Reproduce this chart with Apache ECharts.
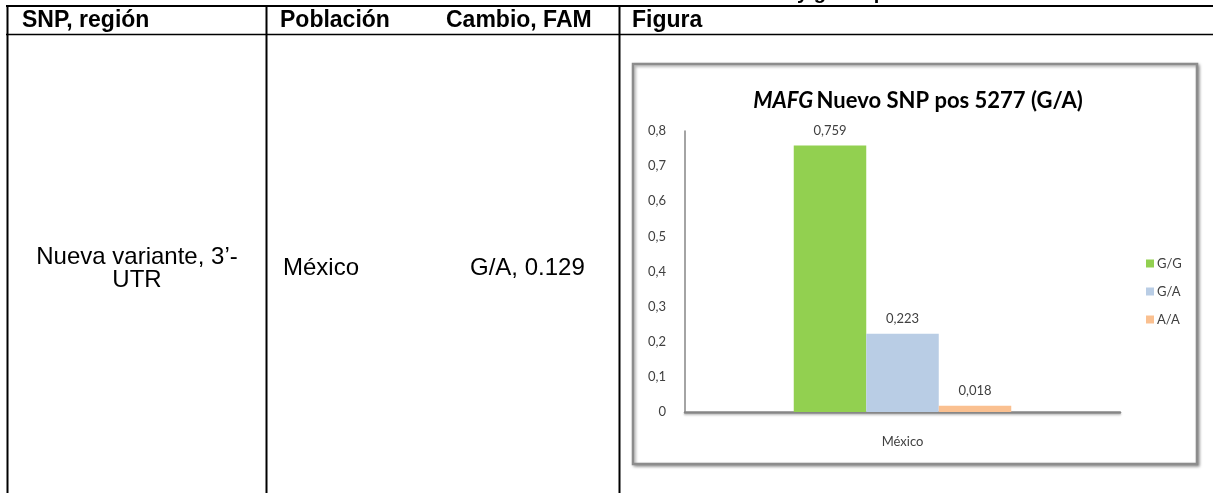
<!DOCTYPE html>
<html>
<head>
<meta charset="utf-8">
<title>MAFG Nuevo SNP pos 5277 (G/A)</title>
<script src="https://cdn.jsdelivr.net/npm/echarts@6/dist/echarts.min.js"></script>
<style>
  html, body { margin: 0; padding: 0; background: #ffffff; }
  #chart { width: 1213px; height: 493px; }
</style>
</head>
<body>
<div id="chart"></div>
<script>
// Genotype frequencies per population
const categories = ['México'];
const genotypes = ['G/G', 'G/A', 'A/A'];
const valuesGG = [0.759];
const valuesGA = [0.223];
const valuesAA = [0.018];
const yTicks = [0, 0.1, 0.2, 0.3, 0.4, 0.5, 0.6, 0.7, 0.8];

// Table row contents
const headerCells = ['SNP, región', 'Población', 'Cambio, FAM', 'Figura'];
const rowRegion = ['Nueva variante, 3’-', 'UTR'];
const rowPopulation = 'México';
const rowChange = 'G/A, 0.129';

const seriesValues = [valuesGG, valuesGA, valuesAA];
const seriesColors = ['#92d050', '#b9cde5', '#fac090'];

const comma = v => String(v).replace('.', ',');
const fmt3 = v => v.toFixed(3).replace('.', ',');

const tableFont = '"Liberation Sans", Arial, sans-serif';
const chartFont = 'Lato, "Open Sans", sans-serif';

function hLine(x1, x2, y, w) {
  return { type: 'line', shape: { x1, y1: y, x2, y2: y }, style: { stroke: '#000', lineWidth: w }, z: 1 };
}
function vLine(x, y1, y2, w) {
  return { type: 'line', shape: { x1: x, y1, x2: x, y2 }, style: { stroke: '#000', lineWidth: w }, z: 1 };
}
function cellText(text, x, y, opts) {
  return {
    type: 'text', z: 2,
    style: Object.assign({
      text, x, y, fill: '#000', font: '24px ' + tableFont,
      align: 'left', verticalAlign: 'middle'
    }, opts || {})
  };
}

const headerX = [22, 280, 446, 632];

const graphics = [
  // caption above the table (only its lower edge falls inside the page)
  cellText('Frecuencias alélicas', 791, 3, { font: 'bold 20px ' + tableFont, align: 'right', verticalAlign: 'bottom' }),
  cellText('y genotípicas', 797, 3, { font: 'bold 20px ' + tableFont, verticalAlign: 'bottom' }),
  // table rules
  hLine(6, 1213, 6, 2),
  hLine(6, 1213, 34.5, 1.5),
  vLine(7.5, 5, 493, 2),
  vLine(266.5, 5, 493, 2),
  vLine(619.5, 5, 493, 2),
  // body cells
  cellText(rowRegion[0], 137, 257, { align: 'center' }),
  cellText(rowRegion[1], 137, 280, { align: 'center' }),
  cellText(rowPopulation, 283, 268),
  cellText(rowChange, 470, 268),
  // chart frame
  {
    type: 'rect', z: 0,
    shape: { x: 633, y: 64, width: 564, height: 400 },
    style: {
      fill: '#fff', stroke: '#8c8c8c', lineWidth: 2.5,
      shadowColor: 'rgba(0,0,0,0.35)', shadowBlur: 3, shadowOffsetX: 1.5, shadowOffsetY: 1.5
    }
  },
  // chart title
  {
    type: 'text', z: 3,
    style: {
      text: '{i|MAFG} {n|Nuevo SNP pos 5277 (G/A)}',
      x: 918, y: 101, align: 'center', verticalAlign: 'middle',
      rich: {
        i: { font: 'italic bold 22px ' + chartFont, fill: '#000' },
        n: { font: 'bold 22px ' + chartFont, fill: '#000' }
      }
    }
  }
];
headerCells.forEach((t, i) => {
  graphics.push(cellText(t, headerX[i], 20.5, { font: 'bold 23px ' + tableFont }));
});

const chart = echarts.init(document.getElementById('chart'), null, { renderer: 'canvas' });

chart.setOption({
  animation: false,
  backgroundColor: '#ffffff',
  textStyle: { fontFamily: chartFont },
  graphic: graphics,
  grid: { left: 685, top: 131, width: 435, height: 281, containLabel: false },
  legend: {
    data: genotypes,
    orient: 'vertical',
    left: 1141,
    top: 252,
    itemWidth: 8,
    itemHeight: 8,
    itemGap: 15,
    icon: 'rect',
    textStyle: { fontFamily: chartFont, fontSize: 13, color: '#404040', padding: [0, 0, 0, -2] }
  },
  xAxis: {
    type: 'category',
    data: categories,
    axisLine: {
      lineStyle: {
        color: '#868686', width: 2.5,
        shadowColor: 'rgba(0,0,0,0.25)', shadowBlur: 2, shadowOffsetY: 1.5
      }
    },
    axisTick: { show: false },
    axisLabel: { margin: 23, fontFamily: chartFont, fontSize: 13, color: '#404040' }
  },
  yAxis: {
    type: 'value',
    min: 0,
    max: 0.8,
    interval: 0.1,
    axisLine: { show: true, lineStyle: { color: '#868686', width: 1.5 } },
    axisTick: { show: false },
    splitLine: { show: false },
    axisLabel: {
      margin: 19, fontFamily: chartFont, fontSize: 13, color: '#404040',
      formatter: v => {
        const t = yTicks.find(k => Math.abs(k - v) < 1e-9);
        return comma(t !== undefined ? t : v);
      }
    }
  },
  series: genotypes.map((name, i) => ({
    name,
    type: 'bar',
    data: seriesValues[i],
    barGap: '0%',
    barCategoryGap: '50%',
    itemStyle: { color: seriesColors[i] },
    label: {
      show: true,
      position: 'top',
      distance: 8,
      fontFamily: chartFont,
      fontSize: 13,
      color: '#404040',
      formatter: p => fmt3(p.value)
    }
  }))
});
</script>
</body>
</html>
